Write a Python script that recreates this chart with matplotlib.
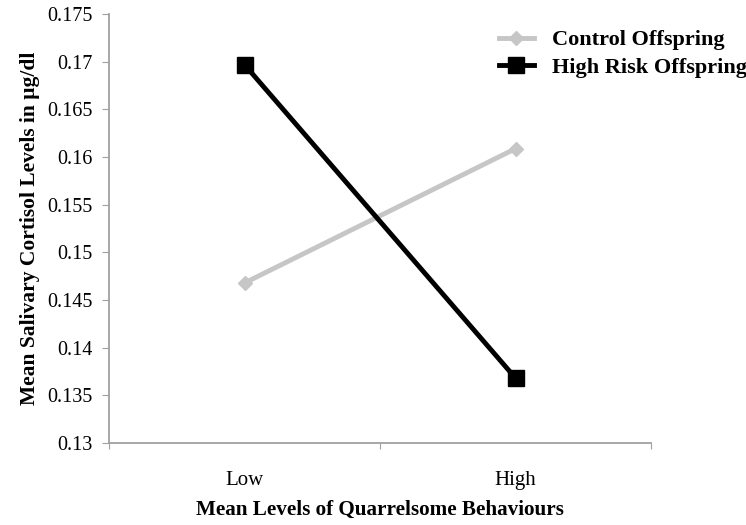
import matplotlib
matplotlib.use("Agg")
import matplotlib.pyplot as plt

categories = ["Low", "High"]
control = [0.1468, 0.1609]
high_risk = [0.1697, 0.1368]
yticks = [0.13, 0.135, 0.14, 0.145, 0.15, 0.155, 0.16, 0.165, 0.17, 0.175]
ytick_labels = ["0.13", "0.135", "0.14", "0.145", "0.15", "0.155", "0.16", "0.165", "0.17", "0.175"]

plt.rcParams['font.family'] = ['Liberation Serif', 'DejaVu Serif']

fig = plt.figure(figsize=(7.46, 5.25), dpi=100)
ax = fig.add_axes([0.146, 0.156, 0.727, 0.817])

xpos = [0.5, 1.5]
ax.plot(xpos, control, color="#c6c6c6", lw=3.5, marker="D", markersize=7,
        markeredgecolor="#c6c6c6", markerfacecolor="#c6c6c6", label="Control Offspring", zorder=2)
ax.plot(xpos, high_risk, color="black", lw=3.5, marker="s", markersize=11,
        label="High Risk Offspring", zorder=3)

ax.set_xlim(0, 2)
ax.set_ylim(0.13, 0.175)
ax.set_yticks(yticks)
ax.set_yticklabels(ytick_labels)
ax.set_xticks([0, 1, 2])
ax.set_xticklabels([])
ax.set_xticks(xpos, minor=True)
ax.set_xticklabels(categories, minor=True)
ax.tick_params(axis='x', which='minor', length=0, pad=20, labelsize=15)
ax.tick_params(axis='x', which='major', length=4, color="#a0a0a0")
ax.tick_params(axis='y', length=5, color="#a0a0a0", labelsize=14.5, pad=7)

for s in ["top", "right"]:
    ax.spines[s].set_visible(False)
for s in ["left", "bottom"]:
    ax.spines[s].set_color("#a0a0a0")
    ax.spines[s].set_linewidth(1.3)

ax.set_ylabel("Mean Salivary Cortisol Levels in μg/dl", fontweight="bold", fontsize=15.5, labelpad=5)
ax.set_xlabel("Mean Levels of Quarrelsome Behaviours", fontweight="bold", fontsize=15.2, labelpad=7)

leg = ax.legend(loc="upper left", bbox_to_anchor=(0.69, 1.0), frameon=False,
                prop={'weight': 'bold', 'size': 16}, handlelength=1.6, handletextpad=0.8,
                labelspacing=0.3, borderpad=0.2)

fig.savefig("out.png", dpi=100)
